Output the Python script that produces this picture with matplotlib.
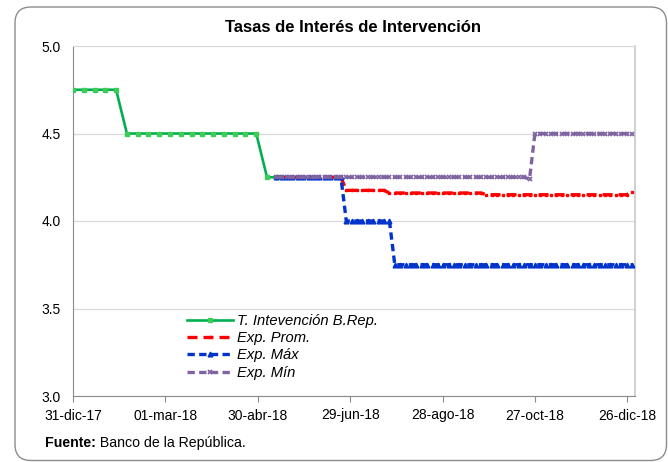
import numpy as np
import pandas as pd
import matplotlib
matplotlib.use('Agg')
import matplotlib.pyplot as plt
from matplotlib.patches import FancyBboxPatch

plt.rcParams['font.family'] = ['Liberation Sans', 'DejaVu Sans']

# tasa de intervencion observada (semanal)
tasa_fechas = pd.date_range('2017-12-31', periods=20, freq='7D')
tasa = [4.75, 4.75, 4.75, 4.75, 4.75,
        4.50, 4.50, 4.50, 4.50, 4.50, 4.50, 4.50, 4.50, 4.50, 4.50, 4.50, 4.50, 4.50,
        4.25, 4.25]

# expectativas (dos veces por semana)
exp_fechas = pd.date_range('2018-05-12', periods=67, freq='84h')
exp_prom = [4.25, 4.25, 4.25, 4.25, 4.25, 4.25, 4.25, 4.25, 4.25, 4.25, 4.25, 4.25, 4.25,
            4.175, 4.175, 4.175, 4.175, 4.175, 4.175, 4.175, 4.175,
            4.16, 4.16, 4.16, 4.16, 4.16, 4.16, 4.16, 4.16, 4.16, 4.16, 4.16, 4.16, 4.16,
            4.16, 4.16, 4.16, 4.16, 4.16,
            4.15, 4.15, 4.15, 4.15, 4.15, 4.15, 4.15, 4.15, 4.15, 4.15, 4.15, 4.15, 4.15,
            4.15, 4.15, 4.15, 4.15, 4.15, 4.15, 4.15, 4.15, 4.15, 4.15, 4.15, 4.15, 4.15,
            4.15, 4.165]
exp_max = [4.25, 4.25, 4.25, 4.25, 4.25, 4.25, 4.25, 4.25, 4.25, 4.25, 4.25, 4.25, 4.25,
           4.0, 4.0, 4.0, 4.0, 4.0, 4.0, 4.0, 4.0, 4.0,
           3.75, 3.75, 3.75, 3.75, 3.75, 3.75, 3.75, 3.75, 3.75, 3.75, 3.75, 3.75, 3.75,
           3.75, 3.75, 3.75, 3.75, 3.75, 3.75, 3.75, 3.75, 3.75, 3.75, 3.75, 3.75, 3.75,
           3.75, 3.75, 3.75, 3.75, 3.75, 3.75, 3.75, 3.75, 3.75, 3.75, 3.75, 3.75, 3.75,
           3.75, 3.75, 3.75, 3.75, 3.75, 3.75]
exp_min = [4.25, 4.25, 4.25, 4.25, 4.25, 4.25, 4.25, 4.25, 4.25, 4.25, 4.25, 4.25, 4.25,
           4.25, 4.25, 4.25, 4.25, 4.25, 4.25, 4.25, 4.25, 4.25, 4.25, 4.25, 4.25, 4.25,
           4.25, 4.25, 4.25, 4.25, 4.25, 4.25, 4.25, 4.25, 4.25, 4.25, 4.25, 4.25, 4.25,
           4.25, 4.25, 4.25, 4.25, 4.25, 4.25, 4.25, 4.25, 4.24,
           4.5, 4.5, 4.5, 4.5, 4.5, 4.5, 4.5, 4.5, 4.5, 4.5, 4.5, 4.5, 4.5, 4.5, 4.5,
           4.5, 4.5, 4.5, 4.5]

tick_fechas = pd.to_datetime(['2017-12-31', '2018-03-01', '2018-04-30', '2018-06-29',
                              '2018-08-28', '2018-10-27', '2018-12-26'])
tick_labels = ['31-dic-17', '01-mar-18', '30-abr-18', '29-jun-18',
               '28-ago-18', '27-oct-18', '26-dic-18']

W, H = 668, 462
fig = plt.figure(figsize=(W / 100, H / 100), dpi=100, facecolor='white')

# marco redondeado
marco = FancyBboxPatch((0.15, 0.015), 6.515, 4.535, boxstyle='round,pad=0,rounding_size=0.16',
                       transform=fig.dpi_scale_trans, facecolor='none', edgecolor='#8c8c8c',
                       linewidth=1.0, zorder=-1)
fig.patches.append(marco)

ax = fig.add_axes([73 / W, 1 - 396 / H, (635 - 73) / W, (396 - 46) / H])
ax.set_facecolor('none')

ax.plot(tasa_fechas, tasa, color='#00B050', linewidth=1.9, marker='s', markersize=3.2,
        markerfacecolor='#3dcc55', markeredgecolor='#3dcc55', label='T. Intevención B.Rep.', zorder=3)
ax.plot(exp_fechas, exp_prom, color='#FF0000', linewidth=2.4, dashes=(3.0, 1.8),
        marker='s', markersize=2.0, label='Exp. Prom.', zorder=4)
ax.plot(exp_fechas, exp_max, color='#0033CC', linewidth=2.4, dashes=(2.2, 1.3),
        marker='^', markersize=3.4, label='Exp. Máx', zorder=5)
ax.plot(exp_fechas, exp_min, color='#8064A2', linewidth=2.4, dashes=(2.2, 1.3),
        marker='x', markersize=3.4, markeredgewidth=1.3, label='Exp. Mín', zorder=6)

ax.set_xlim(pd.Timestamp('2017-12-31'), pd.Timestamp('2018-12-31'))
ax.set_ylim(3.0, 5.0)
ax.set_yticks([3.0, 3.5, 4.0, 4.5, 5.0])
ax.set_yticklabels(['3.0', '3.5', '4.0', '4.5', '5.0'])
ax.set_xticks(tick_fechas)
ax.set_xticklabels(tick_labels)
ax.yaxis.grid(True, color='#d9d9d9', linewidth=0.9)
ax.set_axisbelow(True)

ax.tick_params(axis='x', length=4, color='#8c8c8c', pad=5, labelsize=10)
ax.tick_params(axis='y', length=0, pad=9, labelsize=10)
ax.spines['left'].set_color('#8c8c8c')
ax.spines['bottom'].set_color('#8c8c8c')
ax.spines['top'].set_color('#d9d9d9')
ax.spines['right'].set_color('#c8c8c8')
ax.spines['right'].set_linewidth(1.2)

ax.legend(loc='upper left', bbox_to_anchor=(187 / W, 1 - 314 / H), bbox_transform=fig.transFigure,
          frameon=False, prop={'style': 'italic', 'size': 10.6},
          handlelength=3.1, handletextpad=0.33, labelspacing=0.22, borderpad=0, borderaxespad=0)

fig.text(353 / W, 1 - 27 / H, 'Tasas de Interés de Intervención', ha='center', va='center',
         fontsize=12, fontweight='bold')

t1 = fig.text(45 / W, 1 - 443 / H, 'Fuente:', ha='left', va='center', fontsize=10.2, fontweight='bold')
ax.annotate(' Banco de la República.', xy=(1, 0), xycoords=t1, ha='left', va='bottom',
            fontsize=10.2, annotation_clip=False)

fig.savefig('out.png', dpi=100)
